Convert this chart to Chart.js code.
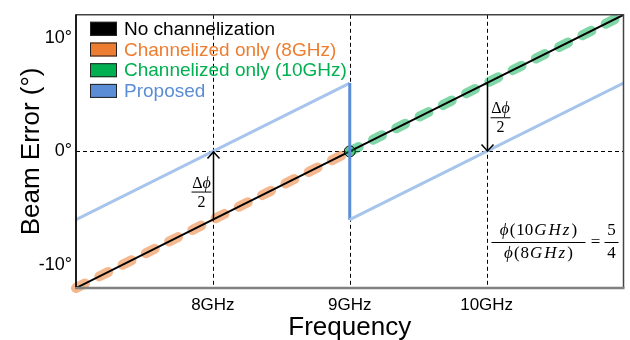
<!DOCTYPE html>
<html>
<head>
<meta charset="utf-8">
<script src="https://cdn.jsdelivr.net/npm/chart.js@4.4.0/dist/chart.umd.min.js"></script>
<style>
  html, body { margin: 0; padding: 0; background: #fff; }
  #wrap { width: 630px; height: 340px; }
</style>
</head>
<body>
<div id="wrap"><canvas id="chart" width="630" height="340"></canvas></div>
<script>
// 차트 데이터 (주파수 GHz, 빔 오차 도)
const noChFreqs = [7, 8, 9, 10, 11];
const noChErr = [-12, -6, 0, 6, 12];
const ch8Freqs = [7, 8, 9];
const ch8Err = [-12, -6, 0];
const ch10Freqs = [9, 10, 11];
const ch10Err = [0, 6, 12];
const propFreqs = [7, 9, 9, 11];
const propErr = [-6, 6, -6, 6];
const markFreqs = [9];
const markErr = [0];

// 축 눈금과 기준선
const xTicks = [8, 9, 10];
const yTicks = [-10, 0, 10];
const refFreqs = [8, 9, 10];
const refErr = [0];

// 화살표 (Δϕ/2)
const arrowFreqs = [8, 10];
const arrowFrom = [-6, 6];
const arrowTo = [0, 0];

const SANS = "'Liberation Sans', Arial, sans-serif";
const SERIF = "'Liberation Serif', 'Times New Roman', serif";

function toXY(xs, ys) {
    return xs.map((x, i) => ({ x: x, y: ys[i] }));
}

// 여러 글꼴 조각을 한 줄로 그리는 함수
function drawRich(ctx, parts, cx, cy, size) {
    let total = 0;
    parts.forEach(p => {
        ctx.font = (p[1] ? 'italic ' : '') + size + 'px ' + SERIF;
        total += ctx.measureText(p[0]).width + (p[2] || 0);
    });
    let x = cx - total / 2;
    ctx.textAlign = 'left';
    ctx.textBaseline = 'middle';
    parts.forEach(p => {
        ctx.font = (p[1] ? 'italic ' : '') + size + 'px ' + SERIF;
        ctx.fillText(p[0], x, cy);
        x += ctx.measureText(p[0]).width + (p[2] || 0);
    });
    return total;
}

const overlayPlugin = {
    id: 'overlay',
    beforeDatasetsDraw(chart) {
        const { ctx, chartArea: a, scales: { x, y } } = chart;
        ctx.save();
        ctx.strokeStyle = '#000';
        ctx.lineWidth = 1;
        ctx.setLineDash([4, 3]);
        refFreqs.forEach(f => {
            const px = Math.round(x.getPixelForValue(f)) + 0.5;
            ctx.beginPath();
            ctx.moveTo(px, a.top);
            ctx.lineTo(px, a.bottom);
            ctx.stroke();
        });
        refErr.forEach(v => {
            const py = Math.round(y.getPixelForValue(v)) + 0.5;
            ctx.beginPath();
            ctx.moveTo(a.left, py);
            ctx.lineTo(a.right, py);
            ctx.stroke();
        });
        ctx.restore();
    },
    afterDatasetsDraw(chart) {
        const { ctx, chartArea: a, scales: { x, y } } = chart;
        ctx.save();

        // 테두리
        ctx.setLineDash([]);
        ctx.strokeStyle = '#444';
        ctx.lineWidth = 1.5;
        ctx.beginPath();
        ctx.moveTo(a.left, a.bottom);
        ctx.lineTo(a.left, a.top);
        ctx.lineTo(a.right, a.top);
        ctx.lineTo(a.right, a.bottom);
        ctx.stroke();
        ctx.strokeStyle = '#808080';
        ctx.lineWidth = 2.5;
        ctx.beginPath();
        ctx.moveTo(a.left - 1, a.bottom);
        ctx.lineTo(a.right + 1, a.bottom);
        ctx.stroke();
        ctx.strokeStyle = '#000';
        ctx.lineWidth = 1.5;
        ctx.beginPath();
        ctx.moveTo(a.left, a.bottom - 1);
        ctx.lineTo(a.left, a.top);
        ctx.stroke();

        // 화살표 + Δϕ/2
        ctx.fillStyle = '#000';
        arrowFreqs.forEach((f, i) => {
            const px = Math.round(x.getPixelForValue(f)) + 0.5;
            const y0 = y.getPixelForValue(arrowFrom[i]);
            const y1 = y.getPixelForValue(arrowTo[i]);
            const dir = y1 < y0 ? 1 : -1;
            ctx.strokeStyle = '#000';
            ctx.lineWidth = 1.5;
            ctx.beginPath();
            ctx.moveTo(px, y0);
            ctx.lineTo(px, y1);
            ctx.stroke();
            ctx.beginPath();
            ctx.moveTo(px - 6, y1 + dir * 7);
            ctx.lineTo(px, y1 + 0.5 * dir);
            ctx.lineTo(px + 6, y1 + dir * 7);
            ctx.stroke();

            const mid = (y0 + y1) / 2;
            const cx = dir > 0 ? px - 12 : px + 13;
            const barY = dir > 0 ? mid + 6 : mid;
            drawRich(ctx, [['Δ', false], ['ϕ', true]], cx, barY - 8, 16);
            ctx.lineWidth = 1;
            ctx.beginPath();
            ctx.moveTo(cx - 10, barY + 0.5);
            ctx.lineTo(cx + 10, barY + 0.5);
            ctx.stroke();
            drawRich(ctx, [['2', false]], cx, barY + 11, 16);
        });

        // 비율 수식
        const fx = a.right - 85;
        const fy = a.bottom - 46;
        drawRich(ctx, [['ϕ', true, 1], ['(', false, 1], ['10', false, 1], ['G', true, 2], ['H', true, 2], ['z', true, 2], [')', false]], fx, fy - 11, 17);
        drawRich(ctx, [['ϕ', true, 1], ['(', false, 1], ['8', false, 1], ['G', true, 2], ['H', true, 2], ['z', true, 2], [')', false]], fx, fy + 12, 17);
        ctx.lineWidth = 1;
        ctx.beginPath();
        ctx.moveTo(fx - 47, fy + 0.5);
        ctx.lineTo(fx + 47, fy + 0.5);
        ctx.stroke();
        drawRich(ctx, [['=', false]], a.right - 28, fy + 1, 17);
        drawRich(ctx, [['5', false]], a.right - 12, fy - 11, 17);
        drawRich(ctx, [['4', false]], a.right - 12, fy + 12, 17);
        ctx.beginPath();
        ctx.moveTo(a.right - 19, fy + 0.5);
        ctx.lineTo(a.right - 5, fy + 0.5);
        ctx.stroke();

        // 범례
        const items = chart.data.datasets.filter(d => d.legendColor);
        items.forEach((d, i) => {
            const cy = a.top + 14 + i * 20.7;
            ctx.fillStyle = d.legendColor;
            ctx.fillRect(a.left + 14, cy - 7, 27, 14);
            ctx.strokeStyle = '#222';
            ctx.lineWidth = 1;
            ctx.strokeRect(a.left + 14.5, cy - 6.5, 26, 13);
            ctx.fillStyle = d.textColor;
            ctx.font = '19px ' + SANS;
            ctx.textAlign = 'left';
            ctx.textBaseline = 'middle';
            ctx.fillText(d.label, a.left + 48, cy + 1);
        });

        ctx.restore();
    }
};

document.addEventListener('DOMContentLoaded', function() {
    const ctx = document.getElementById('chart').getContext('2d');

    new Chart(ctx, {
        type: 'line',
        data: {
            datasets: [
                {
                    label: 'No channelization',
                    data: toXY(noChFreqs, noChErr),
                    borderColor: '#000',
                    borderWidth: 2,
                    pointRadius: 0,
                    legendColor: '#000',
                    textColor: '#000',
                    order: 2
                },
                {
                    label: 'Channelized only (8GHz)',
                    data: toXY(ch8Freqs, ch8Err),
                    borderColor: 'rgba(237,125,49,0.55)',
                    borderWidth: 10,
                    borderDash: [10, 16],
                    borderCapStyle: 'round',
                    pointRadius: 0,
                    clip: false,
                    legendColor: '#ED7D31',
                    textColor: '#ED7D31',
                    order: 3
                },
                {
                    label: 'Channelized only (10GHz)',
                    data: toXY(ch10Freqs, ch10Err),
                    borderColor: 'rgba(0,176,80,0.5)',
                    borderWidth: 10,
                    borderDash: [10, 16],
                    borderCapStyle: 'round',
                    pointRadius: 0,
                    clip: false,
                    legendColor: '#00B050',
                    textColor: '#00B050',
                    order: 3
                },
                {
                    label: 'Proposed',
                    data: toXY(propFreqs, propErr),
                    borderColor: '#A7C4EC',
                    borderWidth: 3,
                    pointRadius: 0,
                    segment: {
                        borderColor: c => c.p0.parsed.x === c.p1.parsed.x ? '#5B8DD6' : '#A7C4EC'
                    },
                    legendColor: '#5B8DD6',
                    textColor: '#5B8DD6',
                    order: 0
                },
                {
                    label: 'crossing',
                    data: toXY(markFreqs, markErr),
                    showLine: false,
                    pointRadius: 5.5,
                    pointBackgroundColor: 'rgba(0,176,80,0.35)',
                    pointBorderColor: '#000',
                    pointBorderWidth: 1,
                    order: 1
                }
            ]
        },
        options: {
            responsive: false,
            animation: false,
            devicePixelRatio: 1,
            layout: { padding: { top: 13, right: 4, left: 0, bottom: 0 } },
            plugins: {
                legend: { display: false },
                tooltip: { enabled: false }
            },
            scales: {
                x: {
                    type: 'linear',
                    min: 7,
                    max: 11,
                    afterBuildTicks: s => { s.ticks = xTicks.map(v => ({ value: v })); },
                    afterFit: s => { s.height = 52; },
                    grid: { display: false, drawTicks: false },
                    border: { display: false },
                    ticks: {
                        padding: 7,
                        color: '#000',
                        font: { family: SANS, size: 17 },
                        callback: v => v + 'GHz'
                    },
                    title: {
                        display: true,
                        text: 'Frequency',
                        color: '#000',
                        font: { family: SANS, size: 26, lineHeight: 0.92 },
                        padding: 0
                    }
                },
                y: {
                    type: 'linear',
                    min: -12,
                    max: 12,
                    afterBuildTicks: s => { s.ticks = yTicks.map(v => ({ value: v })); },
                    afterFit: s => { s.width = 76; },
                    grid: { display: false, drawTicks: false },
                    border: { display: false },
                    ticks: {
                        padding: 4,
                        color: '#000',
                        font: { family: SANS, size: 18 },
                        callback: v => v + '°'
                    },
                    title: {
                        display: true,
                        text: 'Beam Error (°)',
                        color: '#000',
                        font: { family: SANS, size: 26 },
                        padding: { top: 16, bottom: 0 }
                    }
                }
            }
        },
        plugins: [overlayPlugin]
    });
});
</script>
</body>
</html>
